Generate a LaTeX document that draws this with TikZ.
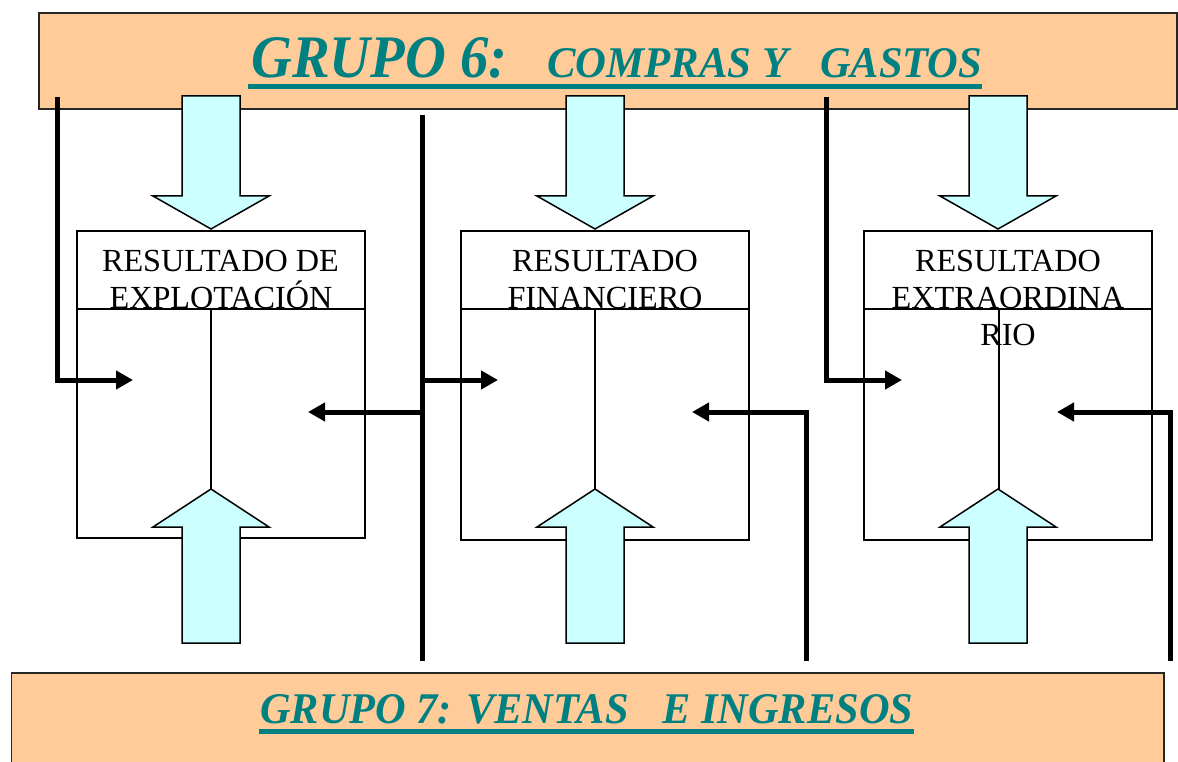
\documentclass[tikz,border=0pt]{standalone}
\usepackage{fontspec}
\setmainfont{Liberation Serif}
\usetikzlibrary{arrows.meta}
\definecolor{peach}{RGB}{255,204,153}
\definecolor{tealtxt}{RGB}{0,128,128}
\definecolor{cyanfill}{RGB}{204,255,255}
\tikzset{
  banner/.style={fill=peach, draw=black!85, line width=1.6pt},
  boxline/.style={draw=black, line width=1.4pt},
  flow/.style={draw=black, line width=5pt, line join=miter},
  flowarrow/.style={flow, -{Triangle[length=17pt,width=18pt]}},
  lbl/.style={font=\fontsize{32.2}{37}\selectfont, inner sep=0pt, anchor=base},
  title/.style={text=tealtxt, inner sep=0pt, anchor=base west, font=\bfseries\itshape},
  uline/.style={draw=tealtxt, line width=5pt},
  blockarrow/.style={fill=cyanfill, draw=black, line width=1.5pt, line join=miter},
  pics/downblock/.style={code={
    \draw[blockarrow] (0,0) -- (-58,-33) -- (-29,-33) -- (-29,-133) -- (29,-133) -- (29,-33) -- (58,-33) -- cycle;}},
  pics/upblock/.style={code={
    \draw[blockarrow] (0,0) -- (-58,38) -- (-29,38) -- (-29,154) -- (29,154) -- (29,38) -- (58,38) -- cycle;}},
}
\begin{document}
\begin{tikzpicture}[x=1pt,y=-1pt]
\useasboundingbox (0,0) rectangle (1178,762);
\clip (0,0) rectangle (1178,762);

% banners
\node[banner, anchor=north west, minimum width=1138pt, minimum height=96pt, inner sep=0pt] (top) at (38,12) {};
\node[banner, anchor=north west, minimum width=1152.5pt, minimum height=120pt, inner sep=0pt] (bottom) at (10.5,672) {};

% banner titles
\node[title] (g6) at (251,78) {\resizebox{256pt}{40pt}{GRUPO 6:}};
\node[title] (c6) at (547,78) {\resizebox{241pt}{29pt}{COMPRAS Y}};
\node[title] (s6) at (820,78) {\resizebox{162pt}{29pt}{GASTOS}};
\coordinate (u6a) at (248,86.5);
\coordinate (u6b) at (982,86.5);
\draw[uline] (u6a) -- (u6b);

\node[title] (g7) at (260,723) {\resizebox{653pt}{29pt}{GRUPO 7: VENTAS\hspace{0.8em}E INGRESOS}};
\coordinate (u7a) at (259,731.5);
\coordinate (u7b) at (914,731.5);
\draw[uline] (u7a) -- (u7b);

% box labels
\node[lbl] (t1a) at (220.5,271) {RESULTADO DE};
\node[lbl] (t1b) at (221,308) {EXPLOTACIÓN};
\node[lbl] (t2a) at (605,271) {RESULTADO};
\node[lbl] (t2b) at (605,308) {FINANCIERO};
\node[lbl] (t3a) at (1008,271) {RESULTADO};
\node[lbl] (t3b) at (1008,308) {EXTRAORDINA};
\node[lbl] (t3c) at (1008,345) {RIO};

% result boxes
\foreach \l/\r/\c/\b in {77/365/211/538, 461/749/595/540, 864/1152/999/540}{
  \draw[boxline] (\l,231) rectangle (\r,\b);
  \draw[boxline] (\l,309) -- (\r,309);
  \draw[boxline] (\c,309) -- (\c,\b);
}

% block arrows from group 6 (down) and from group 7 (up)
\pic (d1) at (211,229) {downblock};
\pic (d2) at (595,229) {downblock};
\pic (d3) at (998,229) {downblock};
\pic (p1) at (211,489) {upblock};
\pic (p2) at (595,489) {upblock};
\pic (p3) at (998,489) {upblock};

% thick connectors
\coordinate (A0) at (57,97);
\coordinate (A1) at (133,380);
\draw[flowarrow] (A0) |- (A1);

\coordinate (B0) at (422,115);
\coordinate (B1) at (422,661);
\coordinate (B2) at (422,380);
\coordinate (B3) at (498,380);
\coordinate (B4) at (422,412);
\coordinate (B5) at (308,412);
\draw[flow] (B0) -- (B1);
\draw[flowarrow] (B2) -- (B3);
\draw[flowarrow] (B4) -- (B5);

\coordinate (C0) at (806,661);
\coordinate (C1) at (692,412);
\draw[flowarrow] (C0) |- (C1);

\coordinate (D0) at (826,97);
\coordinate (D1) at (902,380);
\draw[flowarrow] (D0) |- (D1);

\coordinate (E0) at (1170,661);
\coordinate (E1) at (1057,412);
\draw[flowarrow] (E0) |- (E1);
\end{tikzpicture}
\end{document}
